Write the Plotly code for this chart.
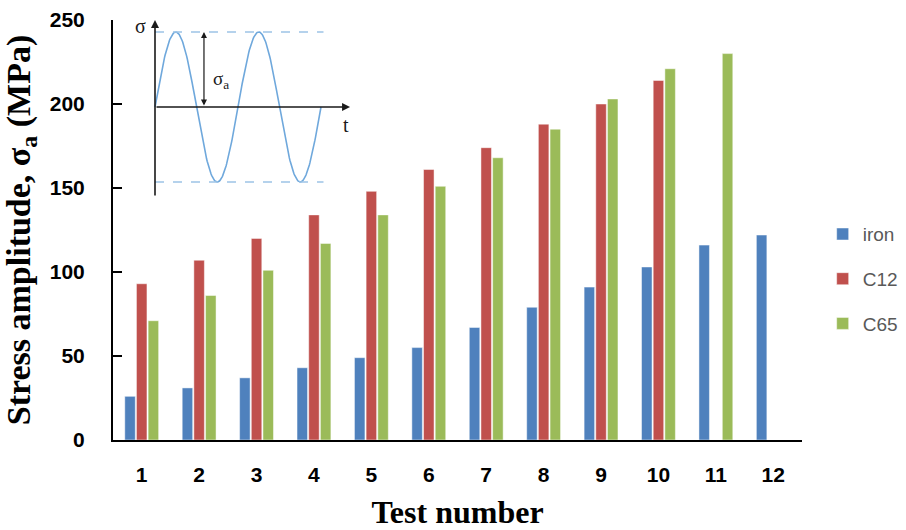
import numpy as np
import plotly.graph_objects as go

tests = ["1", "2", "3", "4", "5", "6", "7", "8", "9", "10", "11", "12"]
iron = [26, 31, 37, 43, 49, 55, 67, 79, 91, 103, 116, 122]
c12 = [93, 107, 120, 134, 148, 161, 174, 188, 200, 214, None, None]
c65 = [71, 86, 101, 117, 134, 151, 168, 185, 203, 221, 230, None]

series_names = ["iron", "C12", "C65"]
series_colors = ["#4F81BD", "#C0504D", "#9BBB59"]

fig = go.Figure()
for name, vals, col in zip(series_names, [iron, c12, c65], series_colors):
    fig.add_trace(go.Bar(
        x=tests, y=vals, name=name, legendgroup=name,
        marker=dict(color=col, line=dict(color="rgba(255,255,255,0.6)", width=0.8)),
    ))

# Inset schematic: sigma(t) = sigma_a * sin(2*pi*t), two cycles
t_curve = np.linspace(0, 2, 300)
fig.add_trace(go.Scatter(x=t_curve, y=np.sin(2 * np.pi * t_curve), mode="lines",
                         line=dict(color="#6FA8DC", width=1.6), xaxis="x2", yaxis="y2",
                         showlegend=False, hoverinfo="skip"))
for lvl in [1, -1]:
    fig.add_trace(go.Scatter(x=[0, 2.03], y=[lvl, lvl], mode="lines",
                             line=dict(color="#9DC3E6", width=1.3, dash="dash"),
                             xaxis="x2", yaxis="y2", showlegend=False, hoverinfo="skip"))

serif = "Liberation Serif, Times New Roman, serif"
sans = "Liberation Sans, Arial, sans-serif"

annotations = [
    # inset vertical axis with arrow
    dict(x=0, y=1.16, ax=0, ay=-1.2, xref="x2", yref="y2", axref="x2", ayref="y2",
         showarrow=True, arrowhead=2, arrowsize=1, arrowwidth=1.6, arrowcolor="#1a1a1a", text=""),
    # inset horizontal axis with arrow
    dict(x=2.35, y=0, ax=0, ay=0, xref="x2", yref="y2", axref="x2", ayref="y2",
         showarrow=True, arrowhead=2, arrowsize=1, arrowwidth=1.6, arrowcolor="#1a1a1a", text=""),
    # amplitude double arrow
    dict(x=0.59, y=1.0, ax=0.59, ay=0, xref="x2", yref="y2", axref="x2", ayref="y2",
         showarrow=True, arrowhead=2, startarrowhead=2, arrowside="end+start",
         arrowsize=1, arrowwidth=1.2, arrowcolor="#1a1a1a", text=""),
    dict(x=-0.18, y=1.08, xref="x2", yref="y2", text="σ", showarrow=False,
         font=dict(family=serif, size=20, color="#1a1a1a")),
    dict(x=0.80, y=0.36, xref="x2", yref="y2", text="σ<sub>a</sub>", showarrow=False,
         font=dict(family=serif, size=19, color="#1a1a1a")),
    dict(x=2.30, y=-0.24, xref="x2", yref="y2", text="t", showarrow=False,
         font=dict(family=serif, size=20, color="#1a1a1a")),
]

fig.update_layout(
    width=906, height=530,
    margin=dict(l=113, r=104, t=20, b=90, autoexpand=False),
    paper_bgcolor="white", plot_bgcolor="white",
    barmode="group", bargap=0.39, bargroupgap=0.1,
    showlegend=True,
    legend=dict(x=1.030, y=0.383, xanchor="left", yanchor="middle",
                font=dict(family=sans, size=19, color="#595959"),
                tracegroupgap=17, itemwidth=30, traceorder="grouped"),
    xaxis=dict(showline=True, linecolor="black", linewidth=2, ticks="",
               showgrid=False, zeroline=False, ticklabelstandoff=15, automargin=False,
               tickfont=dict(family=sans, size=21, color="black", weight="bold"),
               title=dict(text="<b>Test number</b>", font=dict(family=serif, size=32, color="black"),
                          standoff=17)),
    yaxis=dict(range=[0, 250], dtick=50, showline=True, linecolor="black", linewidth=2,
               ticks="inside", ticklen=9, tickwidth=2, tickcolor="black",
               showgrid=False, zeroline=False, ticklabelstandoff=22, automargin=False,
               tickfont=dict(family=sans, size=21, color="black", weight="bold"),
               title=dict(text="<b>Stress amplitude, σ<sub>a</sub> (MPa)</b>",
                          font=dict(family=serif, size=34, color="black"), standoff=10)),
    xaxis2=dict(domain=[22 / 689, 247 / 689], range=[-20 / 83, 205 / 83], anchor="y2", visible=False),
    yaxis2=dict(domain=[240 / 420, 1.0], range=[-93 / 75, 87 / 75], anchor="x2", visible=False),
    annotations=annotations,
)

fig.write_html("out.html", config={"displayModeBar": False},
               post_script="document.body.style.margin='0';document.body.style.padding='0';")
